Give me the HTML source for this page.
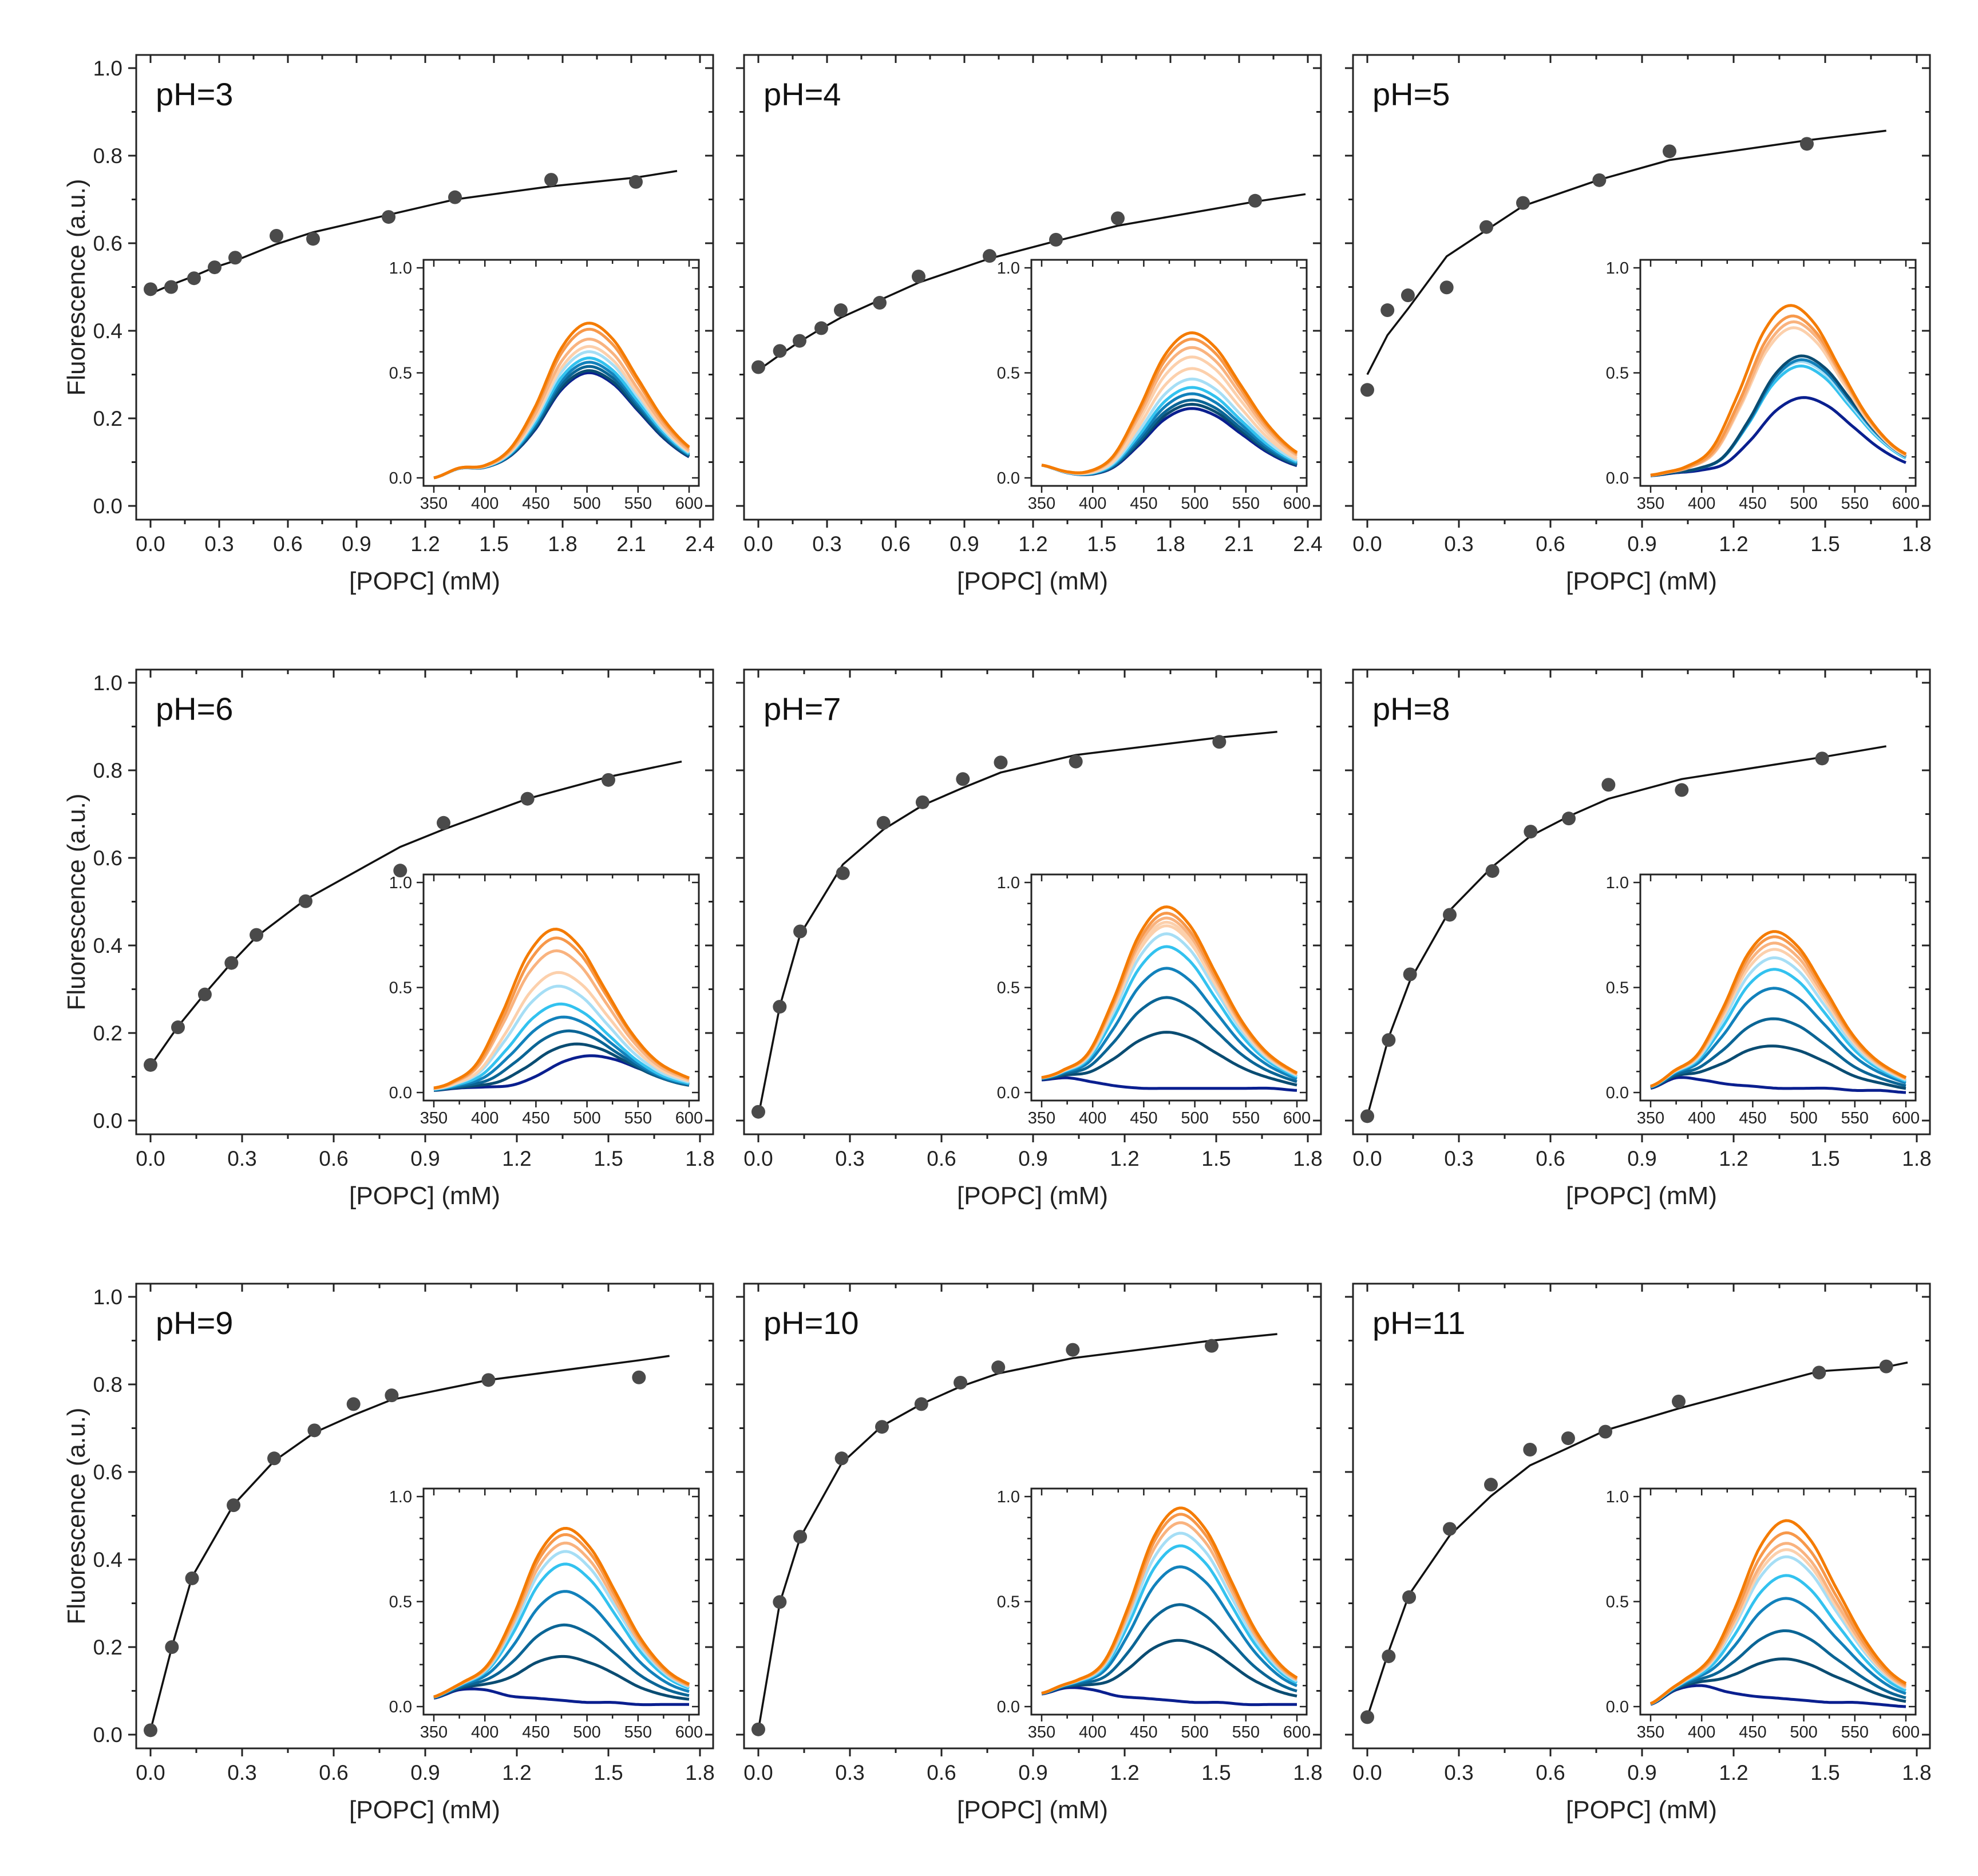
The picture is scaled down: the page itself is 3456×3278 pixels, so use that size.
<!DOCTYPE html>
<html><head><meta charset="utf-8">
<style>
html,body{margin:0;padding:0;background:#fff;}
svg{display:block;font-family:"Liberation Sans",Arial,sans-serif;}
</style></head>
<body>
<svg id="fig" width="3456" height="3278" viewBox="0 0 3456 3278" xmlns="http://www.w3.org/2000/svg"></svg>
<script>
// ---- binding data (x in mM, y in a.u.) ----
const pts3x=[0,0.09,0.19,0.28,0.37,0.55,0.71,1.04,1.33,1.75,2.12];
const pts3y=[0.495,0.50,0.52,0.545,0.567,0.617,0.61,0.66,0.705,0.745,0.74];
const fit3x=[0,0.09,0.19,0.28,0.37,0.55,0.71,1.04,1.33,1.75,2.12,2.3];
const fit3y=[0.485,0.505,0.525,0.545,0.56,0.598,0.625,0.665,0.70,0.73,0.75,0.765];
const pts4x=[0,0.094,0.18,0.275,0.36,0.53,0.70,1.01,1.30,1.57,2.17];
const pts4y=[0.317,0.354,0.377,0.406,0.447,0.464,0.524,0.571,0.608,0.657,0.697];
const fit4x=[0,0.094,0.18,0.275,0.36,0.53,0.70,1.01,1.30,1.57,2.17,2.39];
const fit4y=[0.31,0.345,0.375,0.405,0.43,0.47,0.51,0.565,0.605,0.64,0.695,0.712];
const pts5x=[0,0.066,0.133,0.26,0.39,0.51,0.76,0.99,1.44];
const pts5y=[0.265,0.447,0.481,0.499,0.637,0.692,0.744,0.81,0.827];
const fit5x=[0,0.066,0.133,0.26,0.39,0.51,0.76,0.99,1.44,1.70];
const fit5y=[0.30,0.39,0.45,0.57,0.63,0.685,0.745,0.79,0.835,0.857];
const pts6x=[0,0.09,0.178,0.265,0.347,0.508,0.818,0.96,1.235,1.50];
const pts6y=[0.127,0.213,0.288,0.36,0.424,0.501,0.571,0.68,0.735,0.778];
const fit6x=[0,0.09,0.178,0.265,0.347,0.508,0.818,0.96,1.235,1.50,1.74];
const fit6y=[0.125,0.215,0.29,0.36,0.42,0.505,0.625,0.665,0.735,0.785,0.82];
const pts7x=[0,0.07,0.137,0.277,0.41,0.538,0.67,0.794,1.04,1.51];
const pts7y=[0.02,0.26,0.432,0.565,0.68,0.727,0.78,0.818,0.82,0.865];
const fit7x=[0,0.07,0.137,0.277,0.41,0.538,0.67,0.794,1.04,1.51,1.70];
const fit7y=[0.01,0.26,0.425,0.585,0.665,0.72,0.76,0.795,0.835,0.875,0.888];
const pts8x=[0,0.07,0.14,0.27,0.41,0.535,0.66,0.79,1.03,1.49];
const pts8y=[0.01,0.184,0.334,0.47,0.57,0.66,0.69,0.767,0.755,0.827];
const fit8x=[0,0.07,0.14,0.27,0.41,0.535,0.66,0.79,1.03,1.49,1.70];
const fit8y=[0.01,0.19,0.32,0.48,0.58,0.65,0.695,0.735,0.78,0.83,0.855];
const pts9x=[0,0.07,0.136,0.272,0.405,0.537,0.665,0.79,1.107,1.60];
const pts9y=[0.01,0.20,0.357,0.524,0.631,0.695,0.755,0.775,0.81,0.816];
const fit9x=[0,0.07,0.136,0.272,0.405,0.537,0.665,0.79,1.107,1.60,1.70];
const fit9y=[0.01,0.20,0.36,0.525,0.625,0.69,0.73,0.765,0.81,0.855,0.865];
const pts10x=[0,0.07,0.137,0.273,0.405,0.534,0.662,0.786,1.03,1.485];
const pts10y=[0.012,0.303,0.452,0.631,0.703,0.755,0.804,0.839,0.879,0.888];
const fit10x=[0,0.07,0.137,0.273,0.405,0.534,0.662,0.786,1.03,1.485,1.70];
const fit10y=[0.01,0.30,0.45,0.62,0.705,0.755,0.795,0.825,0.86,0.90,0.915];
const pts11x=[0,0.07,0.137,0.27,0.405,0.533,0.658,0.78,1.02,1.48,1.70];
const pts11y=[0.04,0.179,0.314,0.47,0.571,0.651,0.677,0.692,0.761,0.827,0.841];
const fit11x=[0,0.07,0.137,0.27,0.405,0.533,0.658,0.78,1.02,1.48,1.70,1.77];
const fit11y=[0.04,0.19,0.32,0.455,0.545,0.615,0.655,0.695,0.745,0.83,0.84,0.85];

// ---- inset spectra data ----
const specWl=[350,375,400,425,450,475,500,525,550,575,600];
const shapeOff=[-150,-125,-100,-75,-50,-25,0,25,50,75,100,125,150];
const shapeVal=[0,0.01,0.04,0.15,0.47,0.84,1,0.9,0.64,0.38,0.2,0.11,0.06];
const O1='#f47b00',O2='#f7984a',O3='#f9b37f',O4='#fcd0ac',LB='#a6def5',CY='#33c2ef',B1='#1281bb',B2='#0b6595',B3='#0a4c72',NV='#0a1f8f';
const base3=[0,0.04,0.03,0.03,0,0,0,0,0,0,0];
const peaks3=[0.736,0.707,0.66,0.625,0.60,0.57,0.55,0.53,0.51,0.50];
const cent3=[500,500,500,500,500,500,500,500,500,500];
const cols3=[O1,O2,O3,O4,LB,CY,B1,B2,B3,NV];
const base4=[0.06,0.02,0,0,0,0,0,0,0,0,0];
const peaks4=[0.69,0.66,0.62,0.575,0.52,0.47,0.43,0.40,0.37,0.35,0.33];
const cent4=[495,495,495,495,495,495,495,495,495,495,495];
const cols4=[O1,O2,O3,O4,O4,LB,CY,B1,B2,B3,NV];
const base5=[0.01,0.02,0.02,0.01,0,0,0,0,0,0,0];
const peaks5=[0.82,0.77,0.742,0.714,0.58,0.562,0.553,0.532,0.382];
const cent5=[485,487,488,488,496,496,495,495,498];
const cols5=[O1,O2,O3,O4,B3,B1,LB,CY,NV];
const base6=[0.01,0.02,0.02,0.01,0,0,0,0,0,0,0];
const peaks6=[0.777,0.735,0.674,0.571,0.506,0.421,0.359,0.293,0.231,0.175];
const cent6=[467,468,468,470,470,472,475,480,488,502];
const cols6=[O1,O2,O3,O4,LB,CY,B1,B2,B3,NV];
const base7=[0.06,0.07,0.05,0.03,0.02,0.02,0.02,0.02,0.02,0.02,0.01];
const peaks7=[0.863,0.833,0.81,0.79,0.773,0.735,0.674,0.571,0.432,0.267,0];
const cent7=[470,470,470,470,470,470,470,470,470,470,470];
const cols7=[O1,O2,O3,O4,O4,LB,CY,B1,B2,B3,NV];
const base8=[0.02,0.07,0.06,0.04,0.03,0.02,0.02,0.02,0.01,0.01,0];
const peaks8=[0.745,0.72,0.69,0.66,0.62,0.565,0.475,0.33,0.20,0];
const cent8=[470,470,470,470,470,470,470,470,470,470];
const cols8=[O1,O2,O3,O4,LB,CY,B1,B2,B3,NV];
const base9=[0.04,0.08,0.08,0.05,0.04,0.03,0.02,0.02,0.01,0.01,0.01];
const peaks9=[0.82,0.79,0.75,0.71,0.65,0.52,0.36,0.21,0];
const cent9=[478,478,478,478,478,478,478,478,478];
const cols9=[O1,O2,O3,LB,CY,B1,B2,B3,NV];
const base10=[0.06,0.09,0.08,0.05,0.04,0.03,0.02,0.02,0.01,0.01,0.01];
const peaks10=[0.92,0.89,0.85,0.80,0.74,0.64,0.46,0.29,0];
const cent10=[485,485,485,485,485,485,485,485,485];
const cols10=[O1,O2,O3,LB,CY,B1,B2,B3,NV];
const base11=[0.01,0.08,0.1,0.07,0.05,0.04,0.03,0.02,0.02,0.01,0];
const peaks11=[0.848,0.79,0.74,0.71,0.676,0.587,0.478,0.324,0.19,0];
const cent11=[482,482,482,482,482,482,482,482,482,482];
const cols11=[O1,O2,O3,O4,LB,CY,B1,B2,B3,NV];

const phLabels=['pH=3','pH=4','pH=5','pH=6','pH=7','pH=8','pH=9','pH=10','pH=11'];
const xMaxes=[2.4,2.4,1.8,1.8,1.8,1.8,1.8,1.8,1.8];
const mainYTicks=['0.0','0.2','0.4','0.6','0.8','1.0'];
const insetXTicks=['350','400','450','500','550','600'];
const insetYTicks=['0.0','0.5','1.0'];

const panels=[
 {px:pts3x,py:pts3y,fx:fit3x,fy:fit3y,b:base3,pk:peaks3,ce:cent3,co:cols3},
 {px:pts4x,py:pts4y,fx:fit4x,fy:fit4y,b:base4,pk:peaks4,ce:cent4,co:cols4},
 {px:pts5x,py:pts5y,fx:fit5x,fy:fit5y,b:base5,pk:peaks5,ce:cent5,co:cols5},
 {px:pts6x,py:pts6y,fx:fit6x,fy:fit6y,b:base6,pk:peaks6,ce:cent6,co:cols6},
 {px:pts7x,py:pts7y,fx:fit7x,fy:fit7y,b:base7,pk:peaks7,ce:cent7,co:cols7},
 {px:pts8x,py:pts8y,fx:fit8x,fy:fit8y,b:base8,pk:peaks8,ce:cent8,co:cols8},
 {px:pts9x,py:pts9y,fx:fit9x,fy:fit9y,b:base9,pk:peaks9,ce:cent9,co:cols9},
 {px:pts10x,py:pts10y,fx:fit10x,fy:fit10y,b:base10,pk:peaks10,ce:cent10,co:cols10},
 {px:pts11x,py:pts11y,fx:fit11x,fy:fit11y,b:base11,pk:peaks11,ce:cent11,co:cols11}
];

const NS='http://www.w3.org/2000/svg';
const svg=document.getElementById('fig');
function mk(tag,attrs,parent){const e=document.createElementNS(NS,tag);for(const k in attrs)e.setAttribute(k,attrs[k]);(parent||svg).appendChild(e);return e;}
// smooth (Catmull-Rom) interpolation over sampled arrays
function interp(xs,ys,x){
  const n=xs.length;
  if(x<=xs[0])return ys[0];
  if(x>=xs[n-1])return ys[n-1];
  let i=1;while(x>xs[i])i++;
  const t=(x-xs[i-1])/(xs[i]-xs[i-1]);
  const p0=ys[Math.max(i-2,0)],p1=ys[i-1],p2=ys[i],p3=ys[Math.min(i+1,n-1)];
  return 0.5*((2*p1)+(-p0+p2)*t+(2*p0-5*p1+4*p2-p3)*t*t+(-p0+3*p1-3*p2+p3)*t*t*t);
}

const colL=[238,1300,2364], rowT=[96,1170,2243], FW=1008, FH=812;
const IL=502, IT=358, IW=481, IH=395;

panels.forEach((p,k)=>{
  const L=colL[k%3], T=rowT[Math.floor(k/3)], xMax=xMaxes[k];
  const g=mk('g',{});
  
  
  const X=v=>L+25+v/xMax*960, Y=v=>T+788-v*765;
  const fr=mk('rect',{x:L,y:T,width:FW,height:FH,fill:'none',stroke:'#222','stroke-width':3},g);
  
  
  for(let i=0;i<=10;i++){const v=i/10,y=Y(v),len=i%2?8:14;
    mk('line',{x1:L-len,y1:y,x2:L,y2:y,stroke:'#222','stroke-width':3},g);
    mk('line',{x1:L+FW,y1:y,x2:L+FW-len,y2:y,stroke:'#222','stroke-width':3},g);}
  if(k%3===0){
    mainYTicks.forEach((s,i)=>{const t=mk('text',{x:L-24,y:Y(i*0.2)+13,'text-anchor':'end','font-size':37,fill:'#222'},g);t.textContent=s;
      
      });
  }
  const nx=Math.round(xMax/0.15);
  for(let i=0;i<=nx;i++){const v=i*0.15,x=X(v),len=i%2?8:14;
    mk('line',{x1:x,y1:T+FH,x2:x,y2:T+FH+len,stroke:'#222','stroke-width':3},g);
    mk('line',{x1:x,y1:T,x2:x,y2:T+len,stroke:'#222','stroke-width':3},g);
    if(i%2===0){const t=mk('text',{x:x,y:T+FH+55,'text-anchor':'middle','font-size':37,fill:'#222'},g);t.textContent=(v).toFixed(1);
      
      }}
  const xt=mk('text',{x:L+FW/2,y:T+FH+122,'text-anchor':'middle','font-size':44,fill:'#222'},g);xt.textContent='[POPC] (mM)';
  
  
  if(k%3===0){const yt=mk('text',{x:0,y:0,'text-anchor':'middle','font-size':44,fill:'#222',transform:`translate(${L-90},${T+FH/2}) rotate(-90)`},g);yt.textContent='Fluorescence (a.u.)';
    
    }
  const ph=mk('text',{x:L+34,y:T+88,'font-size':56,fill:'#111'},g);ph.textContent=phLabels[k];
  
  
  const fl=mk('polyline',{points:p.fx.map((v,i)=>X(v)+','+Y(p.fy[i])).join(' '),fill:'none',stroke:'#111','stroke-width':3.5},g);
  
  
  p.px.forEach((v,i)=>{const c=mk('circle',{cx:X(v),cy:Y(p.py[i]),r:12,fill:'#4a4a4a'},g);
    
    });
  const iL=L+IL, iT=T+IT;
  const IX=w=>iL+18+(w-350)/250*446, IY=v=>iT+381-v*367;
  const ib=mk('rect',{x:iL,y:iT,width:IW,height:IH,fill:'#fff',stroke:'#222','stroke-width':3},g);
  
  
  for(let i=0;i<=10;i++){const w=350+i*25,x=IX(w),len=i%2?7:12;
    mk('line',{x1:x,y1:iT+IH,x2:x,y2:iT+IH+len,stroke:'#222','stroke-width':2.5},g);
    mk('line',{x1:x,y1:iT,x2:x,y2:iT+len,stroke:'#222','stroke-width':2.5},g);}
  insetXTicks.forEach(s=>{const t=mk('text',{x:IX(+s),y:iT+IH+40,'text-anchor':'middle','font-size':29,fill:'#222'},g);t.textContent=s;
    
    });
  for(let i=0;i<=10;i++){const y=IY(i/10),len=i%5?7:12;
    mk('line',{x1:iL-len,y1:y,x2:iL,y2:y,stroke:'#222','stroke-width':2.5},g);
    mk('line',{x1:iL+IW,y1:y,x2:iL+IW-len,y2:y,stroke:'#222','stroke-width':2.5},g);}
  insetYTicks.forEach((s,i)=>{const t=mk('text',{x:iL-20,y:IY(i*0.5)+10,'text-anchor':'end','font-size':29,fill:'#222'},g);t.textContent=s;
    
    });
  for(let c=p.pk.length-1;c>=0;c--){
    const pts=[];
    for(let w=350;w<=600;w+=2.5){const v=Math.max(0,interp(specWl,p.b,w))+p.pk[c]*Math.max(0,interp(shapeOff,shapeVal,w-p.ce[c]));pts.push(IX(w).toFixed(1)+','+IY(v).toFixed(1));}
    const sl=mk('polyline',{points:pts.join(' '),fill:'none',stroke:p.co[c],'stroke-width':5,'stroke-linejoin':'round'},g);
    
    
  }
});
</script>
</body></html>
